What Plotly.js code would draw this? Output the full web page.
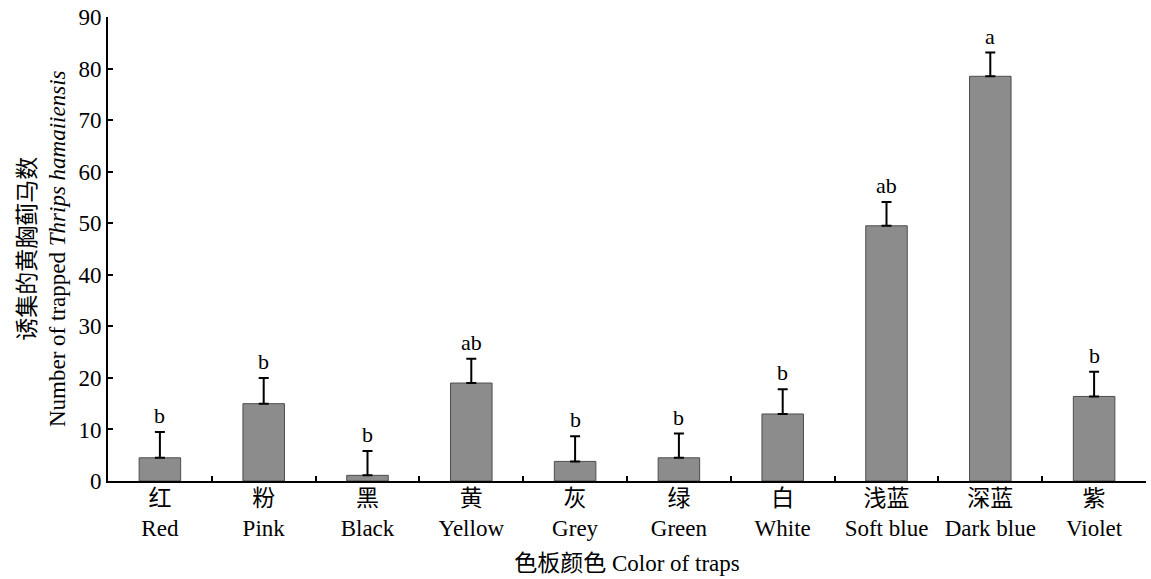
<!DOCTYPE html>
<html><head><meta charset="utf-8">
<script src="https://cdn.plot.ly/plotly-3.0.1.min.js"></script>
<style>body{margin:0;background:#fff}#chart{width:1151px;height:579px}</style>
</head><body><div id="chart"></div>
<script>
const categoriesZh = ["红","粉","黑","黄","灰","绿","白","浅蓝","深蓝","紫"];
const categoriesEn = ["Red","Pink","Black","Yellow","Grey","Green","White","Soft blue","Dark blue","Violet"];
const means = [4.5, 15.0, 1.1, 19.0, 3.8, 4.5, 13.0, 49.5, 78.5, 16.4];
const errors = [5.0, 5.0, 4.7, 4.7, 4.9, 4.7, 4.8, 4.6, 4.6, 4.8];
const letters = ["b","b","b","ab","b","b","b","ab","a","b"];

const cats = categoriesZh.map((z,i)=> z + "<br>" + categoriesEn[i]);
const font = "'Liberation Serif','Times New Roman','Noto Sans CJK SC',serif";
const fs = 23;

const trace = {
  type: "bar", x: cats, y: means, width: 0.4,
  marker: {color: "#8c8c8c", line: {color: "#4d4d4d", width: 1}},
  error_y: {type: "data", array: errors, arrayminus: errors.map(()=>0), symmetric: false,
            color: "#000", thickness: 2, width: 5}
};

const annotations = letters.map((t,i)=>({
  x: cats[i], y: means[i]+errors[i], text: t, showarrow: false,
  yanchor: "bottom", yshift: 2, font: {family: font, size: 22, color: "#000"}
}));
annotations.push({
  xref: "paper", yref: "paper", x: (42-108)/1038, y: 0.5, textangle: -90, showarrow: false,
  text: "诱集的黄胸蓟马数<br>Number of trapped <i>Thrips hamaiiensis</i>",
  font: {family: font, size: fs, color: "#000"}, xanchor: "center", yanchor: "middle"
});

const layout = {
  width: 1151, height: 579,
  margin: {l: 108, r: 5, t: 17, b: 98},
  paper_bgcolor: "#fff", plot_bgcolor: "#fff",
  showlegend: false,
  font: {family: font, size: fs, color: "#000"},
  xaxis: {
    type: "category", range: [-0.5, 9.5], showline: true, linecolor: "#000", linewidth: 2,
    ticks: "inside", tickson: "boundaries", ticklen: 5, tickwidth: 2, tickcolor: "#000",
    ticklabelstandoff: -5,
    tickfont: {family: font, size: fs}, showgrid: false, zeroline: false,
    title: {text: "色板颜色 Color of traps", font: {family: font, size: fs}, standoff: 15}
  },
  yaxis: {
    range: [0, 90], dtick: 10, showline: true, linecolor: "#000", linewidth: 2,
    ticks: "inside", ticklen: 5, tickwidth: 2, tickcolor: "#000",
    tickfont: {family: font, size: fs}, showgrid: false, zeroline: false
  },
  annotations: annotations
};
Plotly.newPlot("chart", [trace], layout, {displayModeBar: false, staticPlot: true});
</script></body></html>
